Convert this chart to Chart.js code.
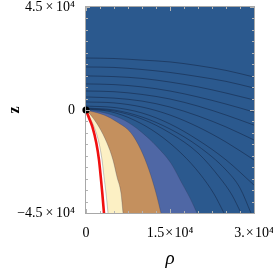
<!DOCTYPE html>
<html>
<head>
<meta charset="utf-8">
<script src="https://cdn.jsdelivr.net/npm/chart.js@4"></script>
<style>
  html, body { margin: 0; padding: 0; background: #fff; }
  canvas { display: block; }
</style>
</head>
<body>
<canvas id="myChart" width="273" height="272"></canvas>
<script>
// axis ranges
const rhoMin = 0, rhoMax = 30000;
const zMin = -45000, zMax = 45000;

// level lines that cross the rho = 0 edge, z read at each rhoGrid value
const rhoGrid = [0, 5000, 10000, 15000, 20000, 25000, 30000];
const level1 = [22700, 22500, 21800, 21000, 19400, 17300, 14400];
const level2 = [18800, 18600, 17700, 16400, 14600, 12500, 9600];
const level3 = [14900, 14600, 13800, 12200, 10100, 7400, 4400];
const level4 = [11400, 11100, 10100, 8300, 5700, 2600, -900];
const level5 = [8300, 8000, 6800, 4800, 1700, -2200, -6600];
const level6 = [5700, 5200, 3900, 1300, -2600, -7400, -13100];
const level7 = [3500, 3100, 1300, -2200, -7400, -14000, -21800];
const level8 = [1700, 1100, -1300, -6100, -13100, -21800, -32800];

// level lines that leave through the bottom edge
const level9Rho = [0, 5000, 10000, 15000, 20000, 25000, 27500, 29460];
const level9Z = [870, 0, -3060, -8300, -15730, -26210, -34080, -45000];
const level10Rho = [0, 5000, 10000, 15000, 20000, 23930, 26070, 27680];
const level10Z = [660, -440, -3930, -10050, -18790, -29710, -37140, -45000];
const level11Rho = [0, 4290, 8570, 12860, 17140, 20360, 22860, 24640];
const level11Z = [440, -660, -4370, -10490, -19220, -27960, -36700, -45000];

// edges of the filled bands near the origin
const blueEdgeRho = [0, 3210, 6790, 9820, 12680, 15180, 17140, 18570, 19820];
const blueEdgeZ = [0, -1180, -4370, -9480, -16030, -23290, -32030, -38450, -45000];
const tanEdgeRho = [0, 3210, 5540, 8040, 9820, 11250, 12500, 13390];
const tanEdgeZ = [0, -2180, -5240, -10050, -17480, -26210, -36260, -45000];
const creamEdgeRho = [0, 540, 1250, 2320, 3750, 4820, 5540, 6250, 6610];
const creamEdgeZ = [0, -1300, -3500, -7400, -14400, -21800, -29300, -36300, -45000];
const whiteEdgeRho = [0, 710, 1430, 2320, 2860, 3210, 3570, 3930];
const whiteEdgeZ = [0, -3500, -7300, -14400, -21800, -29100, -36300, -45000];

// red curve and the point at the origin
const redRho = [0, 540, 1130, 1840, 2320, 2630, 2910, 3210];
const redZ = [0, -3500, -7300, -14400, -21800, -29100, -36300, -45000];
const dotRho = [0];
const dotZ = [0];

const xTicks = [0, 15000, 30000];
const xTickLabels = ['0', '1.5\u200a×\u200a10⁴', '3.\u200a×\u200a10⁴'];
const yTicks = [-45000, 0, 45000];
const yTickLabels = ['−4.5\u2009×\u200910⁴', '0', '4.5\u2009×\u200910⁴'];

function pts(xs, ys) {
  return xs.map((x, i) => ({ x: x, y: ys[i] }));
}

const lineColor = 'rgba(22, 42, 75, 0.75)';

function band(data, color, order) {
  return {
    data: data,
    backgroundColor: color,
    borderColor: 'rgba(40, 50, 80, 0.45)',
    borderWidth: 0.6,
    fill: { value: zMin },
    pointRadius: 0,
    cubicInterpolationMode: 'monotone',
    order: order
  };
}

function level(data) {
  return {
    data: data,
    borderColor: lineColor,
    borderWidth: 0.8,
    fill: false,
    pointRadius: 0,
    cubicInterpolationMode: 'monotone',
    order: 2
  };
}

const plotFrame = {
  id: 'plotFrame',
  beforeDatasetsDraw(chart) {
    const { ctx, chartArea: a } = chart;
    ctx.save();
    ctx.fillStyle = '#2b598e';
    ctx.fillRect(a.left, a.top, a.right - a.left, a.bottom - a.top);
    ctx.restore();
  },
  afterDatasetsDraw(chart) {
    const { ctx, chartArea: a, scales } = chart;
    ctx.save();
    ctx.strokeStyle = '#b4b4b4';
    ctx.lineWidth = 1;
    // small frame ticks
    for (let v = rhoMin; v <= rhoMax; v += 2500) {
      const px = Math.round(scales.x.getPixelForValue(v)) + 0.5;
      const len = v % 15000 === 0 ? 4 : 2;
      ctx.beginPath();
      ctx.moveTo(px, a.bottom); ctx.lineTo(px, a.bottom - len);
      ctx.moveTo(px, a.top); ctx.lineTo(px, a.top + len);
      ctx.stroke();
    }
    for (let v = zMin; v <= zMax; v += 5000) {
      const py = Math.round(scales.y.getPixelForValue(v)) + 0.5;
      const len = v % 45000 === 0 ? 4 : 2;
      ctx.beginPath();
      ctx.moveTo(a.left, py); ctx.lineTo(a.left + len, py);
      ctx.moveTo(a.right, py); ctx.lineTo(a.right - len, py);
      ctx.stroke();
    }
    ctx.strokeStyle = '#a8a8a8';
    ctx.strokeRect(Math.round(a.left) - 0.5, Math.round(a.top) - 0.5,
      Math.round(a.right - a.left) + 1, Math.round(a.bottom - a.top) + 1);
    ctx.restore();
  }
};

const tickFont = { family: 'Liberation Serif', size: 14 };

const ctx = document.getElementById('myChart').getContext('2d');
const chart = new Chart(ctx, {
  type: 'line',
  data: {
    datasets: [
      {
        data: pts(dotRho, dotZ),
        showLine: false,
        pointRadius: 3.6,
        pointBackgroundColor: '#000',
        pointBorderWidth: 0,
        clip: false,
        order: 0
      },
      {
        data: pts(redRho, redZ),
        borderColor: '#f01010',
        borderWidth: 2.6,
        fill: false,
        pointRadius: 0,
        cubicInterpolationMode: 'monotone',
        order: 1
      },
      level(pts(rhoGrid, level1)),
      level(pts(rhoGrid, level2)),
      level(pts(rhoGrid, level3)),
      level(pts(rhoGrid, level4)),
      level(pts(rhoGrid, level5)),
      level(pts(rhoGrid, level6)),
      level(pts(rhoGrid, level7)),
      level(pts(rhoGrid, level8)),
      level(pts(level9Rho, level9Z)),
      level(pts(level10Rho, level10Z)),
      level(pts(level11Rho, level11Z)),
      band(pts(whiteEdgeRho, whiteEdgeZ), '#ffffff', 3),
      band(pts(creamEdgeRho, creamEdgeZ), '#fcf0c4', 4),
      band(pts(tanEdgeRho, tanEdgeZ), '#c4905e', 5),
      band(pts(blueEdgeRho, blueEdgeZ), '#4f67a5', 6)
    ]
  },
  options: {
    responsive: false,
    animation: false,
    events: [],
    layout: { padding: { top: 7, right: 19, bottom: 0, left: 0 } },
    plugins: {
      legend: { display: false },
      tooltip: { enabled: false }
    },
    scales: {
      x: {
        type: 'linear',
        min: rhoMin,
        max: rhoMax,
        afterBuildTicks: s => { s.ticks = xTicks.map(v => ({ value: v })); },
        afterFit: s => { s.height = 59; s.paddingLeft = 0; s.paddingRight = 0; },
        grid: { display: false },
        border: { display: false },
        ticks: {
          autoSkip: false,
          maxRotation: 0,
          padding: 4,
          color: '#000',
          font: tickFont,
          callback: (v, i) => xTickLabels[i]
        },
        title: {
          display: true,
          text: 'ρ',
          color: '#000',
          font: { family: 'Liberation Serif', size: 19, style: 'italic' },
          padding: { top: 0, bottom: 2 }
        }
      },
      y: {
        type: 'linear',
        min: zMin,
        max: zMax,
        afterBuildTicks: s => { s.ticks = yTicks.map(v => ({ value: v })); },
        afterFit: s => { s.width = 86; s.paddingTop = 0; s.paddingBottom = 0; },
        grid: { display: false },
        border: { display: false },
        ticks: {
          autoSkip: false,
          padding: 3,
          color: '#000',
          font: tickFont,
          callback: (v, i) => yTickLabels[i]
        },
        title: {
          display: true,
          text: 'z',
          color: '#000',
          font: { family: 'Liberation Serif', size: 16, weight: 'bold' },
          padding: { top: 5, bottom: 0 }
        }
      }
    }
  },
  plugins: [plotFrame]
});
</script>
</body>
</html>
